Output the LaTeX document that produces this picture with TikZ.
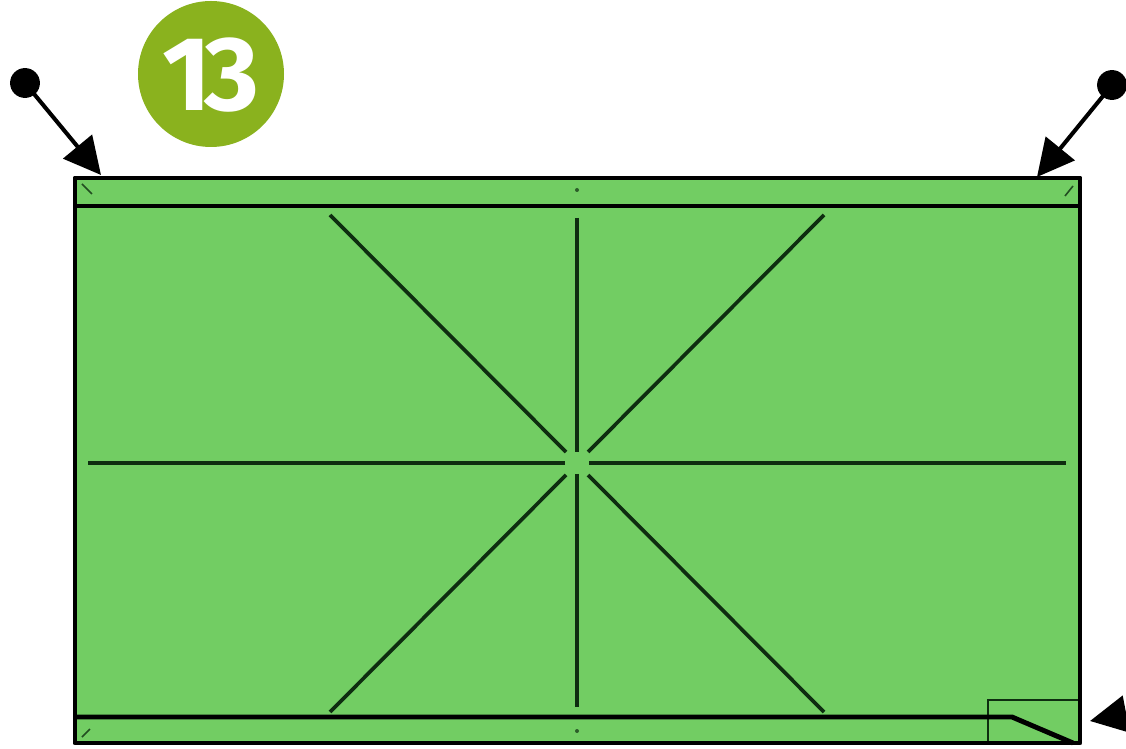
\documentclass[tikz,border=0pt]{standalone}
\usepackage{fontspec}
\newfontfamily\numfont{Fira Sans}
\usetikzlibrary{arrows.meta}
\definecolor{paper}{RGB}{114,205,99}
\definecolor{crease}{RGB}{14,45,16}
\definecolor{badge}{RGB}{138,178,30}
\tikzset{
  outline/.style={line width=2.8pt, draw=black, line join=round},
  creaseline/.style={line width=2.1pt, draw=crease},
  thinline/.style={line width=1.2pt, draw=crease},
  tick/.style={line width=0.9pt, draw=crease!80!paper},
  pinarrow/.style={line width=2.3pt, draw=black, -{Triangle[length=21pt,width=21pt]}},
  pindot/.style={circle, fill=black, inner sep=0pt, minimum size=17pt}
}
\begin{document}
\begin{tikzpicture}[x=0.02cm,y=-0.02cm]
\useasboundingbox (0,0) rectangle (1126,749);
\clip (0,0) rectangle (1126,749);
% paper
\fill[paper] (75,178) rectangle (1080,743);
% creases
\draw[creaseline] (88,463) -- (565,463);
\draw[creaseline] (589,463) -- (1066,463);
\draw[creaseline] (577,218) -- (577,452);
\draw[creaseline] (577,474) -- (577,707);
\draw[creaseline] (330,215) -- (566,452);
\draw[creaseline] (824,215) -- (588,452);
\draw[creaseline] (330,712) -- (566,475);
\draw[creaseline] (824,712) -- (588,475);
% corner square
\draw[thinline] (988,743) -- (988,700) -- (1078,700);
% small marks
\draw[tick] (82,184) -- (92,194);
\draw[tick] (1073,186) -- (1065,196);
\draw[tick] (82,737) -- (90,729);
\fill[crease!70!paper] (577,190) circle (2);
\fill[crease!70!paper] (577,731) circle (2);
% outline
\draw[outline] (75,178) rectangle (1080,743);
\draw[outline] (75,206) -- (1080,206);
\draw[outline] (75,717) -- (1012,717) -- (1073,743);
% badge
\node[circle, fill=badge, minimum size=146*0.02cm, inner sep=0pt] (badge) at (211,74) {};
\node[text=white, font=\numfont\bfseries\fontsize{60}{60}\selectfont, inner sep=0pt] (num) at (211,75) {1\kern-0.06em3};
% pins
\node[pindot] (d1) at (25,83) {};
\coordinate (t1) at (101,175);
\draw[pinarrow] (d1.center) -- (t1);
\node[pindot] (d2) at (1112,85) {};
\coordinate (t2) at (1037,177);
\draw[pinarrow] (d2.center) -- (t2);
\coordinate (d3) at (1200,700);
\coordinate (t3) at (1090,721);
\draw[pinarrow] (d3) -- (t3);
\end{tikzpicture}
\end{document}
